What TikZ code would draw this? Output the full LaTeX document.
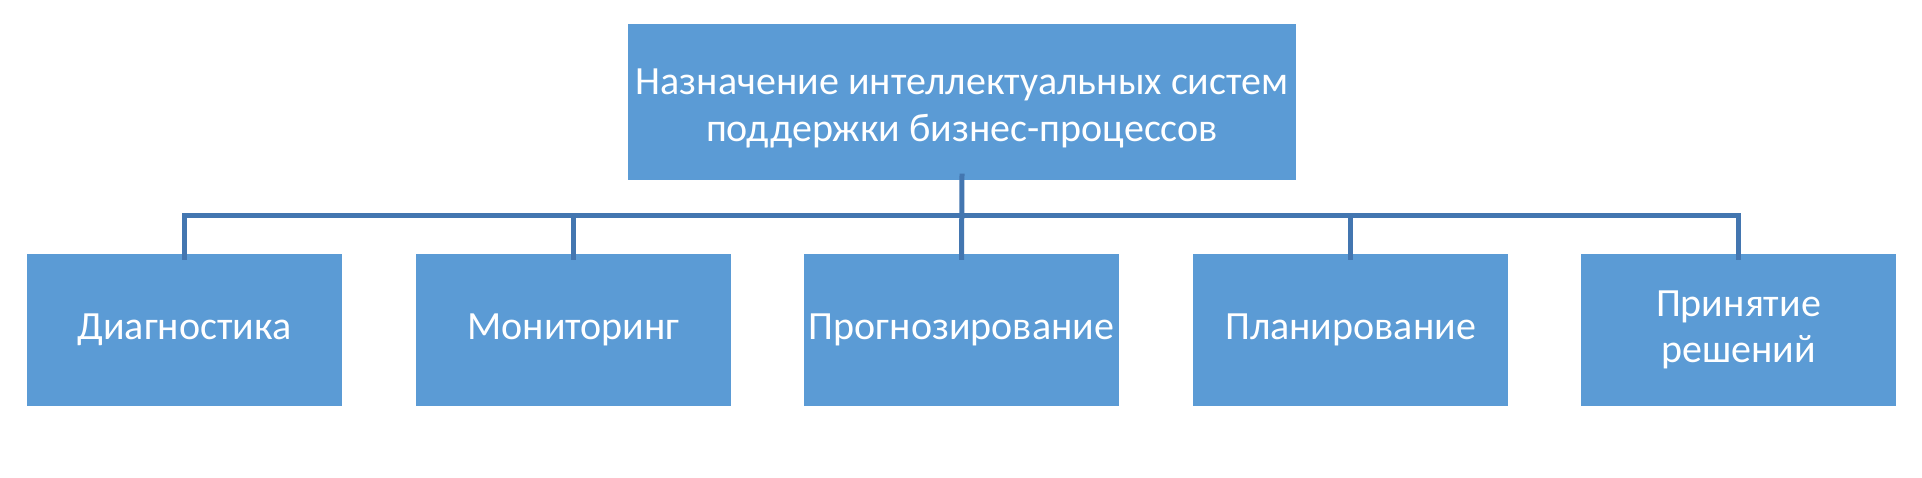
\documentclass[tikz,border=0pt]{standalone}
\usepackage{fontspec}
\setmainfont{Carlito}
\definecolor{boxblue}{HTML}{5B9BD5}
\definecolor{lineblue}{HTML}{4376B0}
\begin{document}
\begin{tikzpicture}[x=1pt,y=-1pt,
  box/.style={fill=boxblue,draw=none,text=white,align=center,inner sep=0pt,
    font=\fontsize{40}{48}\selectfont,minimum height=152pt,minimum width=315pt},
  topbox/.style={box,minimum width=668pt,minimum height=156pt},
  conn/.style={draw=lineblue,line width=5pt}]
\useasboundingbox[fill=white] (0,0) rectangle (1922,477);
\node[topbox] (top) at (962,101.5) {\raisebox{-7pt}[\height][\depth]{\begin{tabular}{@{}c@{}}Назначение интеллектуальных систем\\[-1pt]поддержки бизнес-процессов\end{tabular}}};
\node[box] (b1) at (184.5,330) {Диагностика};
\node[box] (b2) at (573.5,330) {Мониторинг};
\node[box] (b3) at (961.5,330) {Прогнозирование};
\node[box] (b4) at (1350.5,330) {Планирование};
\node[box] (b5) at (1738.5,330) {Принятие\\[-2pt]решений};
\coordinate (hy) at (0,215);
\draw[conn] ([yshift=6pt]top.south) -- ([yshift=-6pt]b3.north);
\draw[conn] ([yshift=-6pt]b1.north) |- (b5.north |- hy) -- ([yshift=-6pt]b5.north);
\draw[conn] ([yshift=-6pt]b2.north) -- (b2.north |- hy);
\draw[conn] ([yshift=-6pt]b4.north) -- (b4.north |- hy);
\end{tikzpicture}
\end{document}
